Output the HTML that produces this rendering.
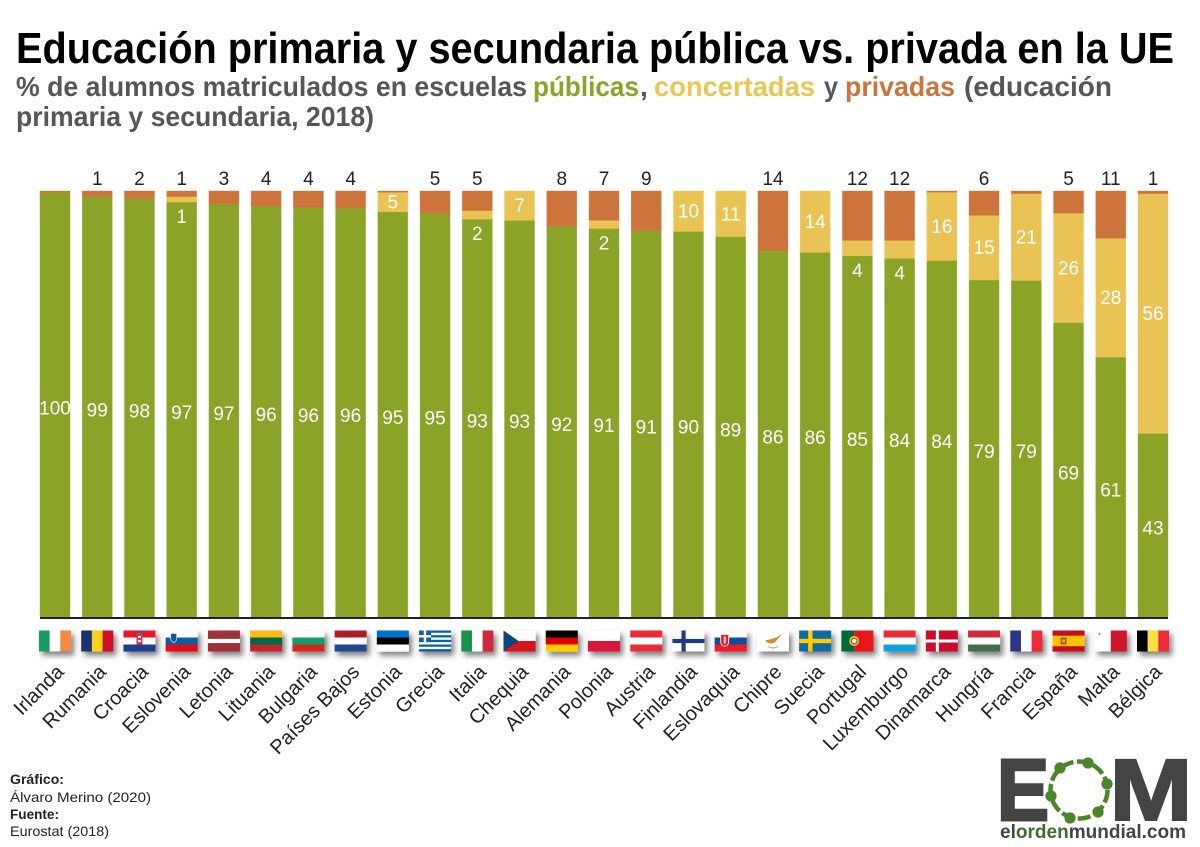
<!DOCTYPE html>
<html lang="es">
<head>
<meta charset="utf-8">
<title>Educación primaria y secundaria pública vs. privada en la UE</title>
<style>
html,body{margin:0;padding:0;background:#fff;width:1200px;height:847px;overflow:hidden}
svg{display:block;font-family:"Liberation Sans",sans-serif}
</style>
</head>
<body>
<svg id="chart" xmlns="http://www.w3.org/2000/svg" width="1200" height="847" viewBox="0 0 1200 847">
  <defs>
    <filter id="flagShadow" x="-30%" y="-30%" width="170%" height="190%">
      <feDropShadow dx="3" dy="4" stdDeviation="3" flood-color="#000" flood-opacity="0.5"/>
    </filter>
  </defs>
  <rect width="1200" height="847" fill="#fff"/>

  <text x="16" y="63" font-size="44" font-weight="700" fill="#000" textLength="1158" lengthAdjust="spacingAndGlyphs">Educación primaria y secundaria pública vs. privada en la UE</text>

  <g font-size="28" font-weight="700" fill="#55565a">
    <text x="16" y="96" textLength="511" lengthAdjust="spacingAndGlyphs">% de alumnos matriculados en escuelas</text>
    <text x="533" y="96" fill="#8ba428" textLength="106" lengthAdjust="spacingAndGlyphs">públicas</text>
    <text x="640" y="96">,</text>
    <text x="654" y="96" fill="#ecc655" textLength="161" lengthAdjust="spacingAndGlyphs">concertadas</text>
    <text x="824" y="96" textLength="14" lengthAdjust="spacingAndGlyphs">y</text>
    <text x="845" y="96" fill="#cc743c" textLength="110" lengthAdjust="spacingAndGlyphs">privadas</text>
    <text x="964" y="96" textLength="148" lengthAdjust="spacingAndGlyphs">(educación</text>
    <text x="16" y="126" textLength="358" lengthAdjust="spacingAndGlyphs">primaria y secundaria, 2018)</text>
  </g>

  <g id="bars"></g>
  <rect x="40" y="617" width="1128" height="2" fill="#222"/>
  <g id="flags"></g>
  <g id="xlabels"></g>

  <g font-size="14" fill="#222">
    <text x="10" y="784" font-weight="700" textLength="54" lengthAdjust="spacingAndGlyphs">Gráfico:</text>
    <text x="10" y="802" textLength="141" lengthAdjust="spacingAndGlyphs">Álvaro Merino (2020)</text>
    <text x="10" y="819" font-weight="700" textLength="49" lengthAdjust="spacingAndGlyphs">Fuente:</text>
    <text x="10" y="836" textLength="99" lengthAdjust="spacingAndGlyphs">Eurostat (2018)</text>
  </g>

  <g>
    <text x="997" y="820" font-size="87" font-weight="700" fill="#444" stroke="#444" stroke-width="3" textLength="52" lengthAdjust="spacingAndGlyphs">E</text>
    <text x="1109.5" y="820" font-size="87" font-weight="700" fill="#444" stroke="#444" stroke-width="2" textLength="83" lengthAdjust="spacingAndGlyphs">M</text>
    <circle cx="1079" cy="790" r="28.5" fill="none" stroke="#4a8529" stroke-width="4.5" stroke-dasharray="13 3.5"/>
    <g fill="#4a8529">
      <circle cx="1060" cy="768" r="5.6"/><circle cx="1088" cy="763" r="5.6"/><circle cx="1107" cy="784" r="5.6"/>
      <circle cx="1098" cy="812" r="5.6"/><circle cx="1070" cy="818" r="5.6"/><circle cx="1051" cy="796" r="5.6"/>
    </g>
    <text x="1000" y="838" font-size="19" font-weight="700" fill="#444" textLength="186" lengthAdjust="spacingAndGlyphs">el<tspan fill="#3f6b2c">orden</tspan>mundial.com</text>
  </g>
</svg>

<script>
const countries = ["Irlanda","Rumania","Croacia","Eslovenia","Letonia","Lituania","Bulgaria","Países Bajos","Estonia","Grecia","Italia","Chequia","Alemania","Polonia","Austria","Finlandia","Eslovaquia","Chipre","Suecia","Portugal","Luxemburgo","Dinamarca","Hungría","Francia","España","Malta","Bélgica"];
const flagCodes = ["ie","ro","hr","si","lv","lt","bg","nl","ee","gr","it","cz","de","pl","at","fi","sk","cy","se","pt","lu","dk","hu","fr","es","mt","be"];
const publicValues = [99.6,98.7,98.2,97.4,97,96.5,96.1,96,95.1,94.8,93.4,93.1,91.7,91.2,90.7,90.5,89.3,86,85.6,84.8,84.2,83.7,79.1,79,69.1,61,43.1];
const concertValues = [0,0,0,1.3,0,0,0,0,4.6,0,2,6.9,0,1.9,0,9.5,10.7,0,14.4,3.6,4.2,16,15.2,20.4,25.7,27.9,56.3];
const privateValues = [0.4,1.3,1.8,1.3,3,3.5,3.9,4,0.3,5.2,4.6,0,8.3,6.9,9.3,0,0,14,0,11.6,11.6,0.3,5.7,0.6,5.2,11.1,0.6];
const publicLabels = ["100","99","98","97","97","96","96","96","95","95","93","93","92","91","91","90","89","86","86","85","84","84","79","79","69","61","43"];
const concertLabels = ["","","","1","","","","","5","","2","7","","2","","10","11","","14","4","4","16","15","21","26","28","56"];
const privateLabels = ["","1","2","1","3","4","4","4","","5","5","","8","7","9","","","14","","12","12","","6","","5","11","1"];

const SVGNS = "http://www.w3.org/2000/svg";
const COLORS = {pub:"#8ba428", con:"#e9c455", pri:"#cc743c"};
const plot = {left:40, barW:30, pitch:1098/26, base:617, unit:4.26};
const xOf = i => plot.left + i * plot.pitch;
const centerOf = i => xOf(i) + plot.barW / 2;
const yOf = v => plot.base - v * plot.unit;

function mk(tag, parent, props){
  const el = document.createElementNS(SVGNS, tag);
  for (const k in props) el.setAttribute(k, props[k]);
  parent.appendChild(el);
  return el;
}

const barsG = document.getElementById("bars");
const flagsG = document.getElementById("flags");
const labelsG = document.getElementById("xlabels");

function segment(parent, i, from, to, fill, name){
  if (to <= from) return;
  const r = mk("rect", parent, {x:xOf(i), y:yOf(to), width:plot.barW, height:(to-from)*plot.unit, fill:fill, stroke:fill, "stroke-opacity":0.45, "stroke-width":0.8});
  
  
}
function valueLabel(parent, i, y, str, fill, name){
  if (!str) return;
  const t = mk("text", parent, {x:centerOf(i), y:y, "text-anchor":"middle", "font-size":19, fill:fill});
  t.textContent = str;
  
  
}

countries.forEach((c, i) => {
  const g = mk("g", barsG, {});
  const slug = c.toLowerCase().replace(/\s+/g, "-");
  
  
  const a = publicValues[i], b = a + concertValues[i], d = b + privateValues[i];
  segment(g, i, 0, a, COLORS.pub, 'public-segment');
  segment(g, i, a, b, COLORS.con, 'concertada-segment');
  segment(g, i, b, d, COLORS.pri, 'private-segment');
  valueLabel(g, i, yOf(a / 2) + 9.5, publicLabels[i], "#fff", 'public-value');
  const conY = concertValues[i] < 4.5 ? yOf(a) + 21 : yOf(a + concertValues[i] / 2) + 6.5;
  valueLabel(g, i, conY, concertLabels[i], "#fff", 'concertada-value');
  valueLabel(g, i, 185, privateLabels[i], "#222", 'private-value');

  const px = centerOf(i) + 10, py = 673;
  const t = mk("text", labelsG, {transform:`translate(${px} ${py}) rotate(-45)`, "text-anchor":"end", "font-size":20, fill:"#222"});
  t.textContent = c;
  
  

  const fg = mk("g", flagsG, {transform:`translate(${centerOf(i)-16} 630.5)`, filter:"url(#flagShadow)"});
  
  
  drawFlag(fg, flagCodes[i]);
});

function hs(g, cols, w){
  const tot = w ? w.reduce((p,q)=>p+q,0) : cols.length; let y = 0;
  cols.forEach((c,k)=>{ const h = (w ? w[k] : 1) / tot * 21; mk("rect", g, {x:0,y:y,width:32,height:h+0.05,fill:c}); y += h; });
}
function vs(g, cols, w){
  const tot = w ? w.reduce((p,q)=>p+q,0) : cols.length; let x = 0;
  cols.forEach((c,k)=>{ const s = (w ? w[k] : 1) / tot * 32; mk("rect", g, {x:x,y:0,width:s+0.05,height:21,fill:c}); x += s; });
}
function cross(g, bg, fg, cx, t){
  mk("rect", g, {x:0,y:0,width:32,height:21,fill:bg});
  mk("rect", g, {x:cx,y:0,width:t,height:21,fill:fg});
  mk("rect", g, {x:0,y:10.5-t/2,width:32,height:t,fill:fg});
}
function drawFlag(g, code){
  switch(code){
    case "ie": vs(g,["#169b62","#fff","#f58842"]); break;
    case "ro": vs(g,["#1f3270","#fcd116","#ce1126"]); break;
    case "hr": hs(g,["#e8192c","#fff","#1f3f8c"]);
      mk("rect",g,{x:13,y:4,width:6,height:10,fill:"#d8354a"});
      mk("rect",g,{x:14.5,y:5.5,width:3,height:2,fill:"#fff"});
      mk("rect",g,{x:14.5,y:9.5,width:3,height:2,fill:"#fff"});
      mk("rect",g,{x:13,y:2,width:6,height:2,fill:"#566a9c"}); break;
    case "si": hs(g,["#fff","#0b5ba8","#e30a17"]);
      mk("path",g,{d:"M5 3h6v5q0 3-3 4q-3-1-3-4z",fill:"#1c4fa0",stroke:"#fff","stroke-width":0.6}); break;
    case "lv": hs(g,["#9e3039","#fff","#9e3039"],[2,1,2]); break;
    case "lt": hs(g,["#fdb913","#006a44","#c1272d"]); break;
    case "bg": hs(g,["#fff","#159a6e","#d8261a"]); break;
    case "nl": hs(g,["#ae1c28","#fff","#21468b"]); break;
    case "ee": hs(g,["#0072ce","#000","#fff"]); break;
    case "gr": hs(g,["#0d5eaf","#fff","#0d5eaf","#fff","#0d5eaf","#fff","#0d5eaf","#fff","#0d5eaf"]);
      mk("rect",g,{x:0,y:0,width:12,height:11.6,fill:"#0d5eaf"});
      mk("rect",g,{x:4.7,y:0,width:2.4,height:11.6,fill:"#fff"});
      mk("rect",g,{x:0,y:4.6,width:12,height:2.4,fill:"#fff"}); break;
    case "it": vs(g,["#169248","#fff","#cd2a3e"]); break;
    case "cz": hs(g,["#fff","#d7141a"]);
      mk("path",g,{d:"M0 0L15 10.5L0 21z",fill:"#11457e"}); break;
    case "de": hs(g,["#000","#dd0000","#ffce00"]); break;
    case "pl": hs(g,["#fff","#dc143c"]); break;
    case "at": hs(g,["#ed2939","#fff","#ed2939"]); break;
    case "fi": cross(g,"#fff","#1a3a80",9,4.2); break;
    case "sk": hs(g,["#fff","#0b4ea2","#ee1c25"]);
      mk("path",g,{d:"M6 4h8v7q0 4-4 5q-4-1-4-5z",fill:"#ee1c25",stroke:"#fff","stroke-width":0.8});
      mk("rect",g,{x:9.2,y:6,width:1.6,height:7,fill:"#fff"}); break;
    case "cy": mk("rect",g,{x:0,y:0,width:32,height:21,fill:"#fff"});
      mk("path",g,{d:"M8 10q5-1 8-2q5-1 9-5q-2 4-5 6q-1 3-5 4q-4 0-7-3z",fill:"#d9862c"});
      mk("path",g,{d:"M11 16q5 3 10 0",fill:"none",stroke:"#a9b39a","stroke-width":1.2}); break;
    case "se": cross(g,"#0a6aa7","#fecc00",9,4.4); break;
    case "pt": vs(g,["#046a38","#e8191c"],[2,3]);
      mk("circle",g,{cx:12.8,cy:10.5,r:5,fill:"#f3c42e"});
      mk("circle",g,{cx:12.8,cy:10.5,r:2.8,fill:"#fff",stroke:"#c8202a","stroke-width":1}); break;
    case "lu": hs(g,["#ed2939","#fff","#11a1de"]); break;
    case "dk": cross(g,"#c8102e","#fff",10,3); break;
    case "hu": hs(g,["#cd2a3e","#fff","#436f4d"]); break;
    case "fr": vs(g,["#2a3586","#fff","#ed2939"]); break;
    case "es": hs(g,["#c60b1e","#ffc400","#c60b1e"],[1,2,1]);
      mk("rect",g,{x:8,y:7,width:6,height:7,fill:"#b5562a"}); 
      mk("rect",g,{x:9.5,y:9,width:3,height:3,fill:"#e0a060"}); break;
    case "mt": vs(g,["#fff","#cf142b"]);
      mk("path",g,{d:"M3.2 3.5h3M4.7 2v3",stroke:"#999","stroke-width":1}); break;
    case "be": vs(g,["#000","#fae042","#ed2939"]); break;
  }
}
</script>
</body>
</html>
